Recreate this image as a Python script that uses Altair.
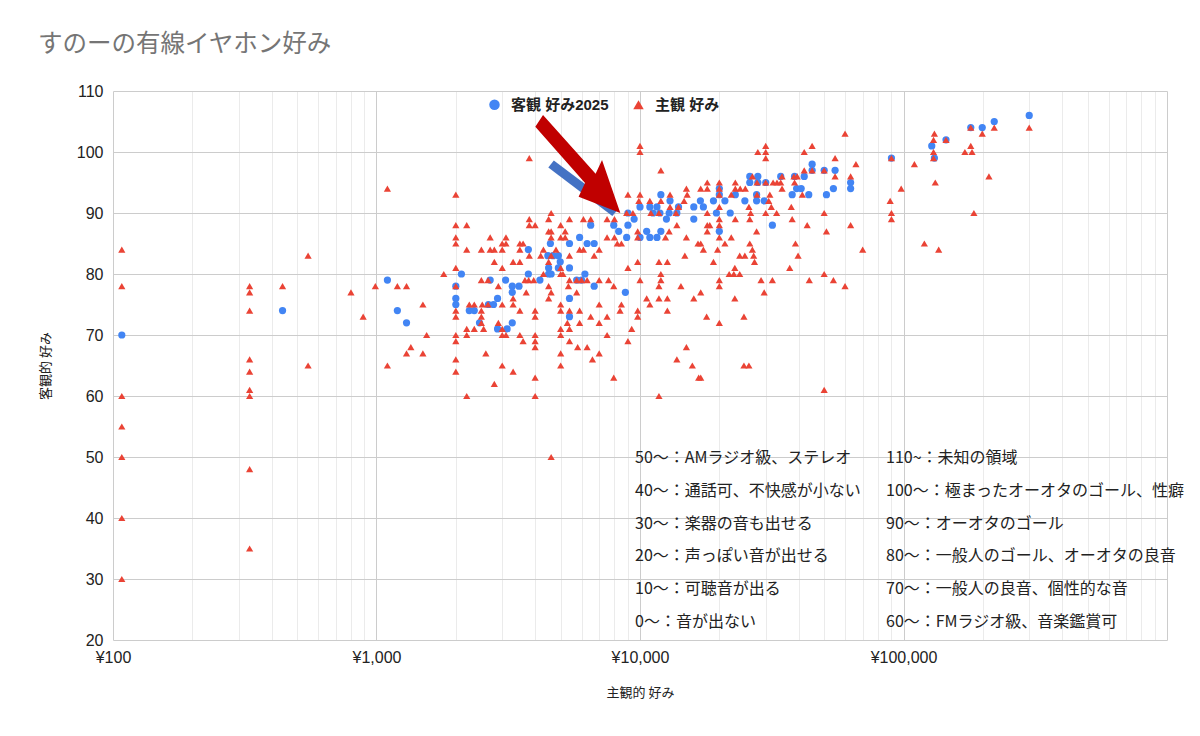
import altair as alt
import pandas as pd

# ---------------- data ----------------
blue_name = "客観 好み2025"
red_name = "主観 好み"

red_yen = [
    108, 108, 108, 108, 108, 108, 108,
    330, 330, 330, 330, 330, 330, 330, 330, 330,
    440, 550, 550, 800, 890, 990,
    1100, 1100, 1200, 1300, 1300, 1350, 1500, 1500, 1550, 1800,
    2000, 2000, 2000, 2000, 2000, 2000, 2000, 2000, 2000, 2000, 2000, 2000,
    2200, 2200, 2200, 2200, 2200, 2250, 2350, 2350,
    2500, 2500, 2500, 2500, 2500, 2520, 2550, 2600, 2650, 2650,
    2700, 2700, 2800, 2800, 2800, 2900, 2900,
    3000, 3000, 3000, 3000, 3000, 3000, 3000,
    3100, 3100, 3100, 3300, 3300, 3300, 3300,
    3500, 3500, 3500, 3500, 3500, 3600, 3600, 3660, 3700, 3780,
    3800, 3800, 3800, 3800, 3950,
    4000, 4000, 4000, 4000, 4000, 4000, 4000, 4000,
    4200, 4300, 4300, 4500, 4500, 4500, 4500, 4500,
    4600, 4600, 4600, 4600, 4600, 4600, 4800,
    5000, 5000, 5000, 5000, 5000, 5000, 5000, 5000, 5000, 5000,
    5100, 5200, 5200, 5300, 5350,
    5400, 5400, 5400, 5400, 5400, 5400, 5750, 5750, 5800,
    5900, 5900, 5900, 6000, 6100, 6100, 6300, 6300, 6500, 6500, 6600, 6700,
    7000, 7000, 7000, 7000, 7000, 7500, 7500, 7500, 7500, 7600, 7950, 7950,
    8000, 8000, 8200, 8400, 8500, 8500, 8900, 9000, 9000, 9000, 9300, 9400,
    9800, 9800, 9800, 9800, 9800, 9900,
    10000, 10000, 10000, 10000, 10600, 10900, 10900, 11000,
    11800, 11800, 11800, 11800, 11800, 12000, 12000, 12000, 12000,
    12500, 12700, 12700, 12700, 12900, 13000, 13000, 13700, 13800, 13800,
    14000, 14300, 14700, 14800, 15000, 15000, 15000, 15100, 15800, 16000,
    16600, 16700, 17000, 17000, 17000, 17000, 17400, 17900,
    18000, 18000, 18000, 18000, 18000, 18400, 19000, 19700,
    20000, 20000, 20000, 20000, 20000, 20000, 20000, 20000, 20000, 20000,
    21000, 21800, 22200, 22200, 22700, 22900, 22900, 23000, 23000, 23000,
    23900, 23900, 24000, 24800, 24800, 25000, 25100, 25900, 25900,
    26100, 26100, 26300, 26700, 26700, 27000, 27200, 27700, 27800, 27800,
    28000, 28800, 29600, 30000, 30000, 30000, 30000, 30000,
    30800, 31100, 31500, 31800, 32000, 33000, 33100, 34200, 34600, 34600,
    37000, 37500, 37800, 38400, 38600, 38900, 39500, 39800, 41300,
    42000, 42000, 43100, 43900, 45000, 45000, 50000, 50000, 50000, 50000,
    51000, 54200, 55000, 55000, 60000, 60000, 63000, 63000, 66000, 70000,
    89000, 90000, 90000, 90000, 98000, 110000, 120000,
    130000, 130000, 130000, 131000, 132000, 136000, 145000,
    171000, 180000, 180000, 182000, 185000, 199000, 211000, 221000, 300000,
]
red_score = [
    84, 78, 60, 55, 50, 40, 30,
    78, 77, 74, 66, 64, 61, 60, 48, 35,
    78, 83, 65, 77, 73, 78,
    94, 65, 78, 78, 67, 68, 75, 67, 70, 80,
    93, 88, 86, 85, 81, 78, 74, 73, 70, 69, 66, 64,
    88, 84, 71, 70, 60, 75, 75, 71,
    84, 79, 74, 73, 72, 75, 71, 67, 79, 75,
    84, 86, 84, 82, 62, 78, 72,
    84, 85, 81, 75, 71, 70, 65,
    86, 85, 70, 82, 76, 75, 64,
    85, 84, 82, 74, 70, 85, 69, 79, 77, 79,
    99, 89, 88, 83, 79,
    88, 74, 73, 70, 69, 68, 63, 60,
    83, 84, 80, 89, 87, 82, 78, 76,
    90, 87, 86, 83, 77, 50, 84,
    88, 86, 81, 80, 75, 74, 71, 70, 67, 65,
    80, 87, 86, 72, 78,
    89, 83, 79, 74, 71, 69, 79, 77, 68,
    84, 74, 72, 79, 89, 84, 79, 68, 89, 73, 66, 83,
    84, 79, 75, 72, 67, 89, 86, 73, 70, 79, 78, 63,
    89, 86, 85, 74, 85, 75, 90, 93, 81, 69, 71, 90,
    87, 86, 82, 74, 73, 92,
    101, 100, 93, 79, 76, 92, 75, 90,
    90, 82, 78, 76, 60, 97, 92, 80, 79,
    86, 82, 76, 74, 87, 93, 91, 90, 88, 66,
    91, 78, 92, 83, 94, 86, 68, 93, 65, 76,
    85, 63, 94, 85, 77, 63, 84, 73,
    95, 94, 90, 88, 87, 88, 82, 84,
    95, 94, 93, 91, 89, 88, 86, 79, 78, 72,
    85, 80, 93, 86, 80, 81, 76, 95, 94, 89,
    83, 80, 94, 73, 65, 83, 94, 91, 65,
    89, 85, 90, 96, 84, 83, 82, 87, 95, 93,
    100, 79, 77, 101, 100, 99, 95, 90,
    92, 93, 91, 79, 95, 90, 95, 95, 96, 94,
    81, 91, 89, 96, 95, 85, 96, 83, 93,
    100, 97, 88, 79, 101, 97, 97, 90, 80, 61,
    87, 79, 99, 96, 103, 78, 96, 88, 98, 84,
    92, 99, 90, 89, 94, 98, 85,
    102, 100, 99, 103, 95, 84, 102,
    100, 104, 101, 100, 90, 103, 96, 104, 104,
]

blue_yen = [
    108, 440, 1100, 1200, 1300,
    2000, 2000, 2000, 2100, 2250, 2350, 2460, 2660, 2700, 2780,
    2880, 2880, 3090, 3130, 3275, 3275, 3275, 3473,
    3770, 3770, 4170, 4470, 4500, 4500, 4570, 4600, 4680,
    4900, 4900, 4980, 5400, 5400, 5400, 5400, 5750, 5900,
    6000, 6180, 6300, 6500, 6700, 6700, 7950, 8300, 8800, 8900,
    9000, 9000, 9500, 10000, 10000, 10600, 10900, 10900, 11200,
    11600, 11600, 11900, 12000, 12000, 12600, 12900, 13000, 13800, 14000,
    16000, 16000, 16950, 17400, 19000, 19500,
    20000, 20000, 20000, 21000, 22000, 23000, 25000,
    26100, 26100, 27700, 27700, 28000, 28000, 29600, 30000, 31800,
    34200, 37800, 38600, 39300, 40900, 42000, 43700,
    45000, 45000, 50000, 51000, 54200, 55000, 63000, 63000,
    90000, 128000, 131000, 145000, 180000, 199000, 221000, 300000,
]
blue_score = [
    70, 74, 79, 74, 72,
    78, 76, 75, 80, 74, 74, 72, 75, 79, 75,
    76, 71, 79, 71, 78, 77, 72, 78,
    84, 80, 79, 83, 81, 80, 85, 80, 83,
    83, 81, 82, 81, 85, 76, 73, 79, 86,
    79, 80, 85, 88, 78, 85, 88, 87, 77, 86,
    90, 88, 89, 91, 86, 87, 91, 86, 90,
    91, 86, 90, 93, 87, 89, 90, 92, 90, 91,
    91, 89, 92, 91, 92, 90,
    94, 93, 87, 92, 90, 93, 92,
    96, 95, 93, 92, 96, 95, 92, 95, 88,
    96, 93, 96, 94, 94, 96, 93,
    98, 97, 97, 93, 94, 97, 95, 94,
    99, 101, 99, 102, 104, 104, 105, 106,
]

# axis tick / grid values
x_grid = [100, 200, 300, 400, 500, 600, 700, 800, 900,
          1000, 2000, 3000, 4000, 5000, 6000, 7000, 8000, 9000,
          10000, 20000, 30000, 40000, 50000, 60000, 70000, 80000, 90000,
          100000, 200000, 300000, 400000, 500000, 600000, 700000, 800000, 900000,
          1000000]
y_grid = [20, 25, 30, 35, 40, 45, 50, 55, 60, 65, 70, 75, 80, 85, 90, 95, 100, 105, 110]

left_notes = [
    "50～：AMラジオ級、ステレオ",
    "40～：通話可、不快感が小ない",
    "30～：楽器の音も出せる",
    "20～：声っぽい音が出せる",
    "10～：可聴音が出る",
    "0～：音が出ない",
]
right_notes = [
    "110~：未知の領域",
    "100～：極まったオーオタのゴール、性癖",
    "90～：オーオタのゴール",
    "80～：一般人のゴール、オーオタの良音",
    "70～：一般人の良音、個性的な音",
    "60～：FMラジオ級、音楽鑑賞可",
]
title_text = "すのーの有線イヤホン好み"

# arrow tip (in data units)
arrow_tip_yen = [8420]
arrow_tip_score = [90.0]

# ---------------- build ----------------
FONT = "'Liberation Sans', Arial, 'Noto Sans CJK JP', sans-serif"
JFONT = "'Noto Sans CJK JP', sans-serif"

df = pd.concat([
    pd.DataFrame({"yen": blue_yen, "score": blue_score, "series": blue_name}),
    pd.DataFrame({"yen": red_yen, "score": red_score, "series": red_name}),
], ignore_index=True)

major_x = "indexof([100,1000,10000,100000,1000000], datum.value) >= 0"
legend = alt.Legend(orient="none", legendX=374, legendY=6, direction="horizontal",
                    title=None, labelFontSize=15, labelFontWeight="bold",
                    labelColor="#222222", labelFont=FONT, symbolSize=110,
                    symbolStrokeWidth=0, labelOffset=9, columnPadding=22, padding=0)

x_enc = alt.X("yen:Q",
              scale=alt.Scale(type="log", domain=[100, 1000000], nice=False),
              axis=alt.Axis(values=x_grid,
                            labelExpr="indexof([100,1000,10000,100000], datum.value) >= 0 ? '¥' + format(datum.value, ',') : ''",
                            gridColor={"condition": {"test": major_x, "value": "#cccccc"}, "value": "#ebebeb"},
                            domain=False, ticks=False, labelFlush=False, labelOverlap=False,
                            labelFontSize=16, labelColor="#222222", labelFont=FONT, labelPadding=9,
                            title="主観的 好み", titleFontSize=13, titleFontWeight="normal",
                            titleColor="#222222", titleFont=JFONT, titlePadding=21))
y_enc = alt.Y("score:Q",
              scale=alt.Scale(domain=[20, 110], nice=False, zero=False),
              axis=alt.Axis(values=y_grid,
                            labelExpr="datum.value % 10 === 0 ? datum.label : ''",
                            gridColor={"condition": {"test": "datum.value % 10 === 0", "value": "#cccccc"}, "value": "#ebebeb"},
                            domain=False, ticks=False, labelFlush=False, labelOverlap=False,
                            labelFontSize=16, labelColor="#222222", labelFont=FONT, labelPadding=10,
                            title="客観的 好み", titleFontSize=13, titleFontWeight="normal",
                            titleColor="#222222", titleFont=JFONT, titlePadding=24))

points = alt.Chart(df).mark_point(filled=True, opacity=1, strokeWidth=0, size=52).encode(
    x=x_enc,
    y=y_enc,
    color=alt.Color("series:N",
                    scale=alt.Scale(domain=[blue_name, red_name], range=["#4285F4", "#EA4335"]),
                    legend=legend),
    shape=alt.Shape("series:N",
                    scale=alt.Scale(domain=[blue_name, red_name], range=["circle", "triangle-up"]),
                    legend=legend),
    order=alt.Order("ord:Q"),
).transform_calculate(ord=f"datum.series === '{blue_name}' ? 0 : 1")

tip_df = pd.DataFrame({"yen": arrow_tip_yen, "score": arrow_tip_score})
blue_arrow_path = "M-72,-45.5 L-8,3 L-2,-4 L-66.5,-52.5 Z"
red_arrow_path = "M0,0 L-41.7,-16.3 L-35.3,-30.1 L-85,-86.3 L-77.3,-98 L-24.7,-39.3 L-18.3,-53 Z"
blue_arrow = alt.Chart(tip_df).mark_point(shape=blue_arrow_path, size=4, filled=True,
                                          color="#4472C4", opacity=1, strokeWidth=0).encode(
    x="yen:Q", y="score:Q")
red_arrow = alt.Chart(tip_df).mark_point(shape=red_arrow_path, size=4, filled=True,
                                         color="#C00000", opacity=1, strokeWidth=0).encode(
    x="yen:Q", y="score:Q")

one = pd.DataFrame({"a": [0]})
notes_left = alt.Chart(one).mark_text(text=left_notes, lineHeight=32.8, align="left", baseline="top",
                                      fontSize=16, font=JFONT, color="#222222").encode(
    x=alt.value(522), y=alt.value(359))
notes_right = alt.Chart(one).mark_text(text=right_notes, lineHeight=32.8, align="left", baseline="top",
                                       fontSize=16, font=JFONT, color="#222222").encode(
    x=alt.value(773), y=alt.value(359))
title = alt.Chart(one).mark_text(text=title_text, align="left", baseline="middle",
                                 fontSize=24.5, font=JFONT, color="#757575").encode(
    x=alt.value(-75), y=alt.value(-46))

chart = alt.layer(points, blue_arrow, red_arrow, notes_left, notes_right, title).properties(
    width=1054, height=549,
    padding={"left": 105, "top": 83, "right": 20, "bottom": 70},
    autosize=alt.AutoSizeParams(type="none"),
    background="white",
).configure_view(stroke=None)

chart.save("out.html", embed_options={"renderer": "svg", "actions": False})
